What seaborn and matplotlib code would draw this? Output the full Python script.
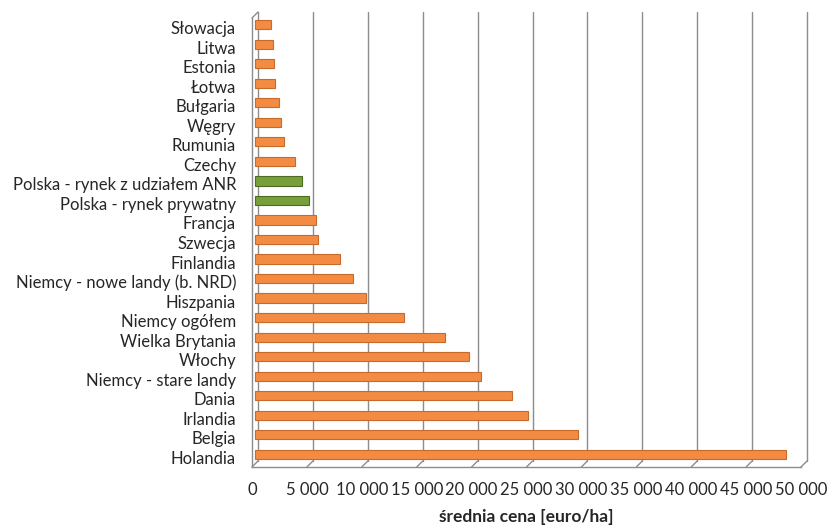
import matplotlib
matplotlib.use("Agg")
import matplotlib.pyplot as plt
import seaborn as sns
import pandas as pd
from matplotlib.ticker import FuncFormatter, FixedLocator, NullFormatter
from matplotlib.transforms import ScaledTranslation

# Average agricultural land prices by country [euro/ha]
countries = [
    "Słowacja", "Litwa", "Estonia", "Łotwa", "Bułgaria", "Węgry", "Rumunia",
    "Czechy", "Polska - rynek z udziałem ANR", "Polska - rynek prywatny",
    "Francja", "Szwecja", "Finlandia", "Niemcy - nowe landy (b. NRD)",
    "Hiszpania", "Niemcy ogółem", "Wielka Brytania", "Włochy",
    "Niemcy - stare landy", "Dania", "Irlandia", "Belgia", "Holandia",
]
prices = [
    1450, 1640, 1730, 1820, 2180, 2360, 2640,
    3640, 4270, 4910,
    5540, 5720, 7730, 8910,
    10090, 13540, 17270, 19450,
    20540, 23450, 24900, 29450, 48360,
]
group = ["Polska" if c.startswith("Polska") else "UE" for c in countries]
x_ticks = list(range(0, 50001, 5000))

df = pd.DataFrame({"kraj": countries, "cena": prices, "grupa": group})

sns.set_style("white")
plt.rcParams["font.family"] = ["Lato", "DejaVu Sans"]

DPI = 100
DEPTH = 6  # depth of the pseudo-3D wall, in pixels
GRID = "#8C8C8C"

fig = plt.figure(figsize=(8.32, 5.27), dpi=DPI)
# the axes box is the front plane; the back wall is shifted up-right by DEPTH
ax = fig.add_axes([252 / 832, 1 - 467 / 527, 549 / 832, 449 / 527])

palette = {"UE": "#F38B43", "Polska": "#77A03A"}
edges = {"UE": "#C8692C", "Polska": "#4F6B22"}

sns.barplot(data=df, x="cena", y="kraj", hue="grupa", palette=palette,
            dodge=False, width=0.47, legend=False, ax=ax, zorder=3,
            order=countries, saturation=1)

# bars sit halfway between the front plane and the back wall
mid = ScaledTranslation(DEPTH / 2 / DPI, DEPTH / 2 / DPI, fig.dpi_scale_trans)
for patch in ax.patches:
    fc = patch.get_facecolor()
    key = "Polska" if fc[1] > fc[0] else "UE"
    patch.set_edgecolor(edges[key])
    patch.set_linewidth(0.8)
    patch.set_transform(ax.transData + mid)

ax.set_xlim(0, 50000)
ax.set_ylim(len(countries) - 0.5, -0.5)
ax.set_xticks(x_ticks)
ax.xaxis.set_major_formatter(FuncFormatter(lambda v, p: f"{int(v):,}".replace(",", " ")))
ax.grid(False)

# back-wall gridlines and the floor edges joining them to the front axis
back = ScaledTranslation(DEPTH / DPI, DEPTH / DPI, fig.dpi_scale_trans)
for v in x_ticks:
    ax.plot([v, v], [0, 1], transform=ax.get_xaxis_transform() + back,
            color=GRID, linewidth=1.0, zorder=0, clip_on=False)
    ax.annotate("", xy=(v, 0), xycoords=ax.get_xaxis_transform(),
                xytext=(DEPTH, DEPTH), textcoords="offset pixels",
                arrowprops=dict(arrowstyle="-", color=GRID, lw=1.0,
                                shrinkA=0, shrinkB=0),
                annotation_clip=False)
# top-left corner of the side wall
ax.annotate("", xy=(0, 1), xycoords="axes fraction",
            xytext=(DEPTH, DEPTH), textcoords="offset pixels",
            arrowprops=dict(arrowstyle="-", color=GRID, lw=1.0, shrinkA=0, shrinkB=0),
            annotation_clip=False)

# category separators on the vertical axis
ax.yaxis.set_minor_locator(FixedLocator([i - 0.5 for i in range(len(countries) + 1)]))
ax.yaxis.set_minor_formatter(NullFormatter())
ax.tick_params(axis="y", which="major", length=0, pad=11.5, labelsize=12, labelcolor="#262626")
ax.tick_params(axis="y", which="minor", length=4, width=1, color=GRID, direction="out")
ax.tick_params(axis="x", which="major", length=4, width=1, color=GRID, direction="out",
               labelsize=12, labelcolor="#262626", pad=7)

for side in ["top", "right"]:
    ax.spines[side].set_visible(False)
for side in ["left", "bottom"]:
    ax.spines[side].set_color(GRID)
    ax.spines[side].set_linewidth(1.0)

ax.set_ylabel("")
ax.set_xlabel("średnia cena [euro/ha]", fontsize=12.5, fontweight="bold",
              color="#262626", labelpad=8)

fig.savefig("out.png", dpi=DPI, facecolor="white")
